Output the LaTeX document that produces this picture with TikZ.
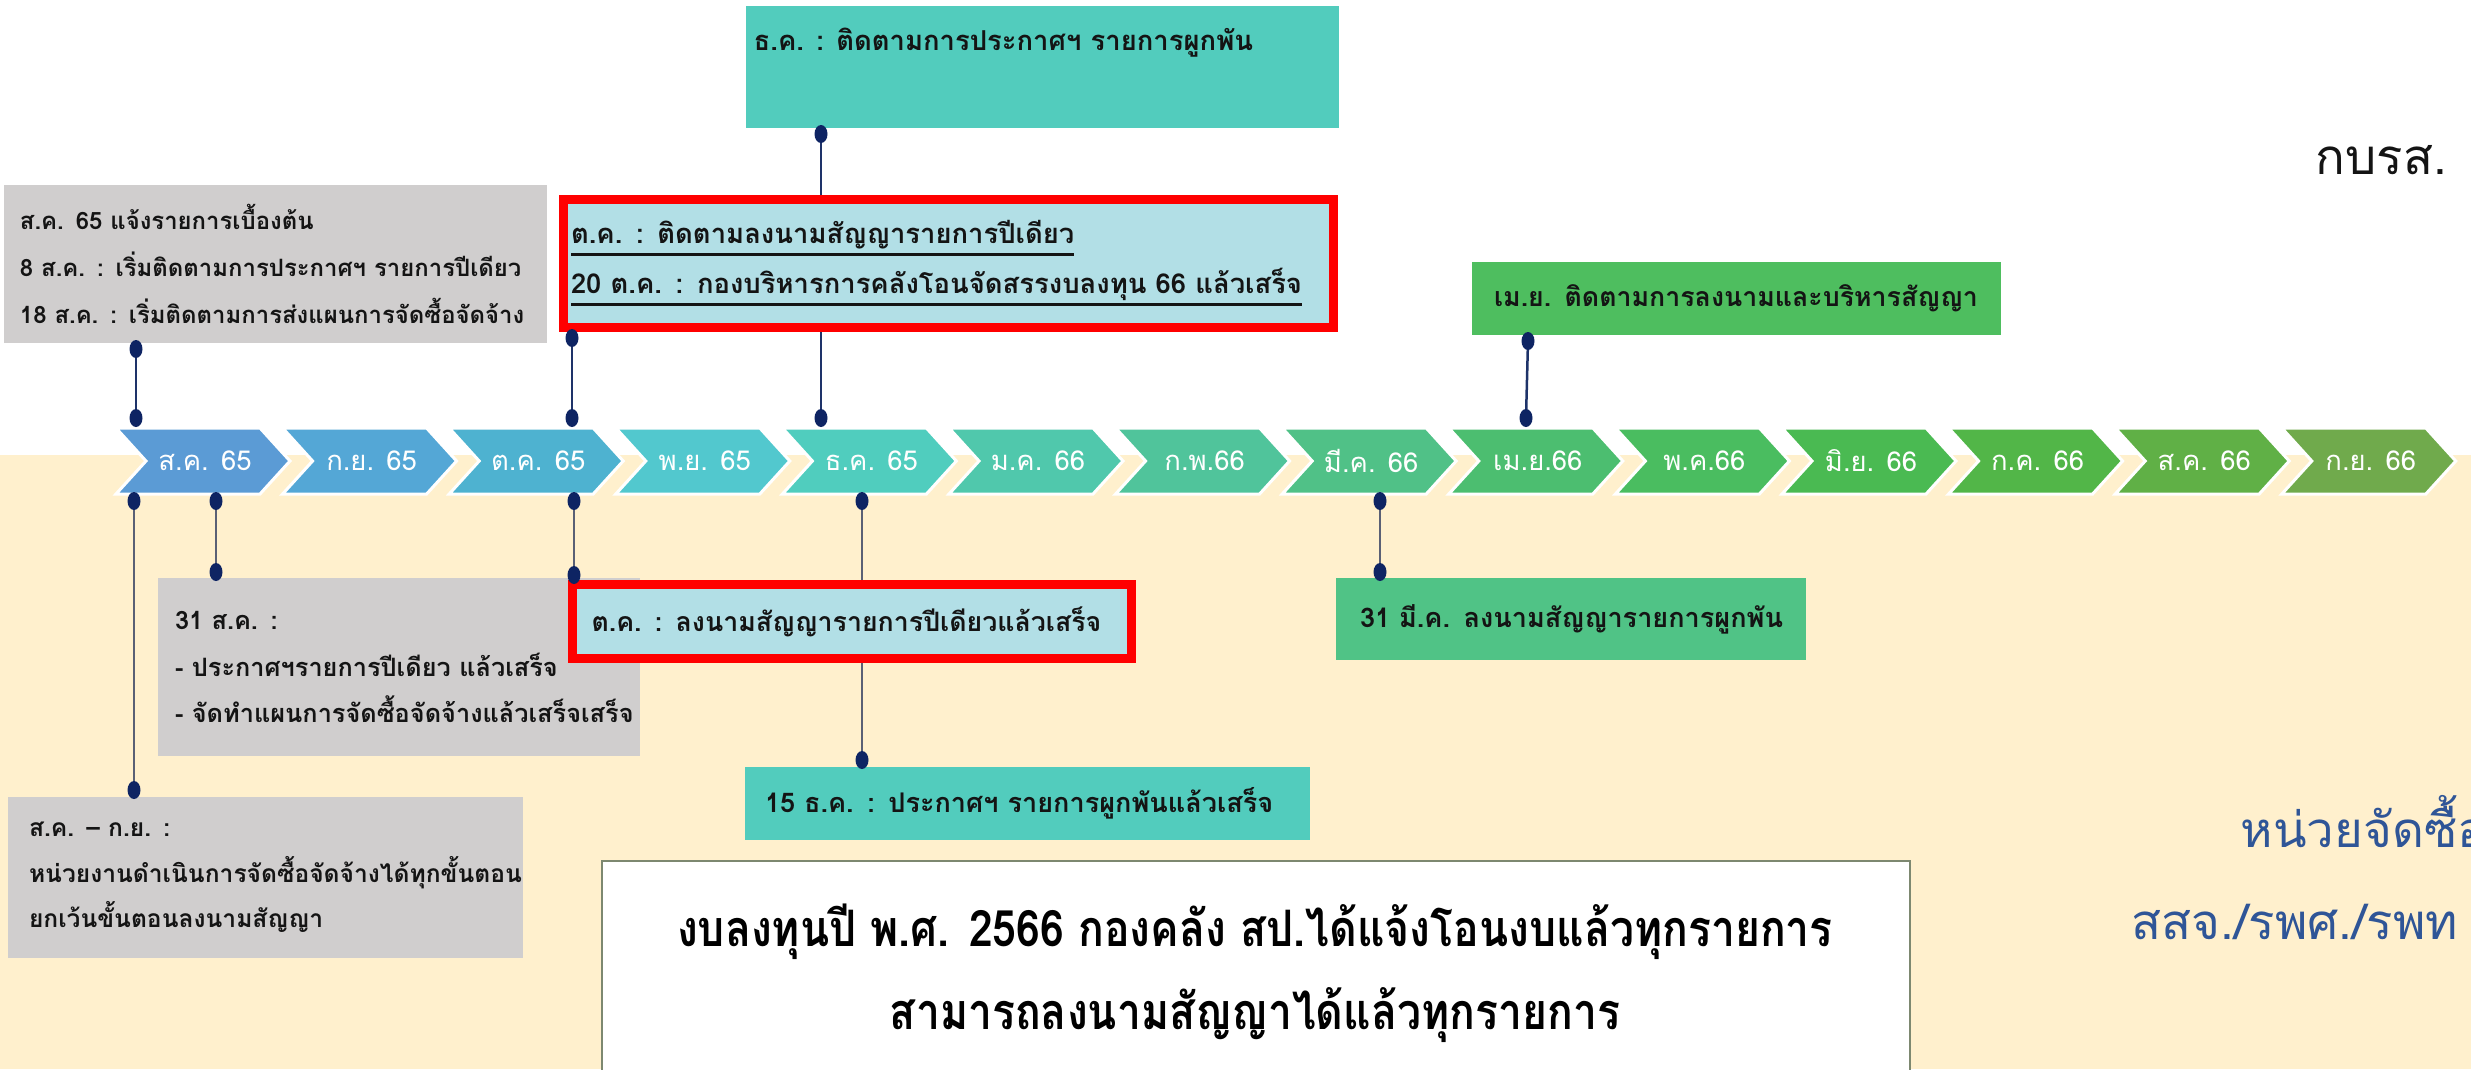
\documentclass[tikz,border=0pt]{standalone}
\usepackage{fontspec}
\newfontfamily\thai[Script=Thai]{Loma}
\newfontfamily\thainar[Script=Thai,FakeStretch=0.85]{Loma}
\usetikzlibrary{shapes.geometric}
\pgfdeclarelayer{bgl}
\pgfdeclarelayer{lnl}
\pgfsetlayers{bgl,lnl,main}
\definecolor{beige}{HTML}{FFF0CD}
\definecolor{grayb}{HTML}{D0CECE}
\definecolor{tealb}{HTML}{52CCBD}
\definecolor{lblue}{HTML}{B2DFE6}
\definecolor{greena}{HTML}{4EBE5F}
\definecolor{greenb}{HTML}{50C386}
\definecolor{navy}{HTML}{0E2463}
\definecolor{linenavy}{HTML}{1E3369}
\definecolor{linegray}{HTML}{5A6075}
\definecolor{rblue}{HTML}{2F5597}
\definecolor{txt}{HTML}{141414}
\definecolor{wbord}{HTML}{7D8870}
\definecolor{c0}{RGB}{91,155,213}
\definecolor{c1}{RGB}{84,167,214}
\definecolor{c2}{RGB}{78,178,208}
\definecolor{c3}{RGB}{82,200,206}
\definecolor{c4}{RGB}{80,205,190}
\definecolor{c5}{RGB}{80,200,172}
\definecolor{c6}{RGB}{80,196,155}
\definecolor{c7}{RGB}{80,193,135}
\definecolor{c8}{RGB}{76,190,112}
\definecolor{c9}{RGB}{74,189,96}
\definecolor{c10}{RGB}{74,186,82}
\definecolor{c11}{RGB}{82,182,72}
\definecolor{c12}{RGB}{96,176,70}
\definecolor{c13}{RGB}{112,170,76}
\newcommand\myul[1]{\vtop{\hbox{#1}\kern0.9pt\hrule height 0.8pt}}
\newcommand\bxf[2]{\thai\bfseries\fontsize{#1}{#2}\selectfont}
\tikzset{
  boxtxt/.style={font=\bxf{7.2}{13.3}, text=txt},
  bx/.style={anchor=north west, inner ysep=0pt, outer sep=0pt, align=left, boxtxt},
  dotn/.style={ellipse, fill=navy, inner sep=0pt, minimum width=1.3mm, minimum height=1.8mm},
  conn/.style={draw=linenavy, line width=0.25mm},
  connlow/.style={draw=linegray, line width=0.25mm},
  mlab/.style={font=\thai\fontsize{7.8}{9}\selectfont, text=white},
  chev/.style={draw=white, line width=0.3mm, line join=miter},
}
\begin{document}
\begin{tikzpicture}[x=0.1mm,y=-0.1mm]
\useasboundingbox (0,0) rectangle (2471,1069);
\begin{pgfonlayer}{bgl}
\fill[white] (0,0) rectangle (2471,1069);
\fill[beige] (0,455) rectangle (2471,1069);
\end{pgfonlayer}

% timeline chevrons
\foreach \i/\lab in {0/ส.ค. 65,1/ก.ย. 65,2/ต.ค. 65,3/พ.ย. 65,4/ธ.ค. 65,5/ม.ค. 66,6/ก.พ.66,7/มี.ค. 66,8/เม.ย.66,9/พ.ค.66,10/มิ.ย. 66,11/ก.ค. 66,12/ส.ค. 66,13/ก.ย. 66}{
  \pgfmathsetmacro\L{116+166.6*\i}
  \path[chev, fill=c\i] (\L,428) -- ++(144,0) -- ++(30,33) -- ++(-30,33) -- ++(-144,0) -- ++(30,-33) -- cycle;
  \node[mlab] (m\i) at (\L+89,461) {\lab};
}

% boxes above
\node[bx, fill=grayb, minimum width=54.3mm, minimum height=15.8mm, inner xsep=1.6mm, text width=51.1mm, font=\bxf{6.8}{13.3}] (b1) at (4,185)
  {\mbox{ส.ค. 65 แจ้งรายการเบื้องต้น}\\\mbox{8 ส.ค. : เริ่มติดตามการประกาศฯ รายการปีเดียว}\\\mbox{18 ส.ค. : เริ่มติดตามการส่งแผนการจัดซื้อจัดจ้าง}};
\node[anchor=north west, fill=tealb, minimum width=59.3mm, minimum height=12.2mm, inner sep=0pt] (b2) at (745,5) {};
\node[boxtxt, font=\bxf{7.8}{9}, anchor=west, inner sep=0pt] (b2t) at (753,43) {ธ.ค. : ติดตามการประกาศฯ รายการผูกพัน};
\node[bx, fill=lblue, draw=red, line width=0.9mm, minimum width=77mm, minimum height=12.8mm, inner xsep=0.75mm, text width=75.5mm, font=\bxf{7.8}{14}] (b3) at (563.5,199.5)
  {\myul{ต.ค. : ติดตามลงนามสัญญารายการปีเดียว}\\\myul{20 ต.ค. : กองบริหารการคลังโอนจัดสรรงบลงทุน 66 แล้วเสร็จ}};
\node[bx, fill=greena, minimum width=52.9mm, minimum height=7.3mm, inner xsep=2.2mm, text width=48.5mm, font=\bxf{7.6}{9}] (b4) at (1472,262)
  {\mbox{เม.ย. ติดตามการลงนามและบริหารสัญญา}};

% boxes below
\node[bx, fill=grayb, minimum width=48.2mm, minimum height=17.8mm, inner xsep=1.7mm, text width=44.8mm] (b5) at (158,578)
  {\mbox{31 ส.ค. :}\\\mbox{- ประกาศฯรายการปีเดียว แล้วเสร็จ}\\\mbox{- จัดทำแผนการจัดซื้อจัดจ้างแล้วเสร็จเสร็จ}};
\node[bx, fill=lblue, draw=red, line width=0.9mm, minimum width=55.9mm, minimum height=7.4mm, inner xsep=1.9mm, text width=52.1mm, font=\bxf{7.6}{9}] (b6) at (572.5,584.5)
  {\mbox{ต.ค. : ลงนามสัญญารายการปีเดียวแล้วเสร็จ}};
\node[bx, fill=tealb, minimum width=56.5mm, minimum height=7.3mm, inner xsep=2mm, text width=52.5mm, font=\bxf{7.7}{9}] (b7) at (745,767)
  {\mbox{15 ธ.ค. : ประกาศฯ รายการผูกพันแล้วเสร็จ}};
\node[bx, fill=greenb, minimum width=47mm, minimum height=8.2mm, inner xsep=2.4mm, text width=42.2mm, font=\bxf{7.7}{9}] (b8) at (1336,578)
  {\mbox{31 มี.ค. ลงนามสัญญารายการผูกพัน}};
\node[bx, fill=grayb, minimum width=51.5mm, minimum height=16.1mm, inner xsep=2.1mm, text width=47.3mm, font=\bxf{7.0}{13}] (b9) at (8,797)
  {\mbox{ส.ค. – ก.ย. :}\\\mbox{หน่วยงานดำเนินการจัดซื้อจัดจ้างได้ทุกขั้นตอน}\\\mbox{ยกเว้นขั้นตอนลงนามสัญญา}};
\node[anchor=north west, fill=white, draw=wbord, line width=0.2mm, minimum width=130.8mm, minimum height=22mm, inner sep=0pt] (b10) at (601,860) {};
\node[align=center, text=black, font=\thainar\bfseries\fontsize{14.3}{23.6}\selectfont] (b10t) at (1255,973)
  {งบลงทุนปี พ.ศ. 2566 กองคลัง สป.ได้แจ้งโอนงบแล้วทุกรายการ\\สามารถลงนามสัญญาได้แล้วทุกรายการ};

% right-hand texts
\node[anchor=west, text=txt, font=\thai\fontsize{14}{16}\selectfont, inner sep=0pt] (kb) at (2315,160) {กบรส.};
\node[anchor=west, text=rblue, font=\thai\fontsize{14}{16}\selectfont, inner sep=0pt] (r1) at (2240,822) {หน่วยจัดซื้อ};
\node[anchor=west, text=rblue, font=\thai\fontsize{14}{16}\selectfont, inner sep=0pt] (r2) at (2131,922) {สสจ./รพศ./รพท};

% dots
\node[dotn] (p1a) at (136,349) {};  \node[dotn] (p1b) at (136,418) {};
\node[dotn] (p2a) at (572,338) {};  \node[dotn] (p2b) at (572,418) {};
\node[dotn] (p3a) at (821,134) {};  \node[dotn] (p3b) at (821,418) {};
\node[dotn] (p4a) at (1528,341) {}; \node[dotn] (p4b) at (1526,418) {};
\node[dotn] (q1a) at (134,501) {};  \node[dotn] (q1b) at (134,790) {};
\node[dotn] (q2a) at (216,501) {};  \node[dotn] (q2b) at (216,572) {};
\node[dotn] (q3a) at (574,501) {};  \node[dotn] (q3b) at (574,575) {};
\node[dotn] (q4a) at (862,501) {};  \node[dotn] (q4b) at (862,760) {};
\node[dotn] (q5a) at (1380,501) {}; \node[dotn] (q5b) at (1380,572) {};

% connectors
\begin{pgfonlayer}{lnl}
\draw[conn] (p1a.center) -- (p1b.center);
\draw[conn] (p2a.center) -- (p2b.center);
\draw[conn] (p3a.center) -- (p3b.center);
\draw[conn] (p4a.center) -- (p4b.center);
\draw[connlow] (q1a.center) -- (q1b.center);
\draw[connlow] (q2a.center) -- (q2b.center);
\draw[connlow] (q3a.center) -- (q3b.center);
\draw[connlow] (q4a.center) -- (q4b.center);
\draw[connlow] (q5a.center) -- (q5b.center);
\end{pgfonlayer}
\end{tikzpicture}
\end{document}
